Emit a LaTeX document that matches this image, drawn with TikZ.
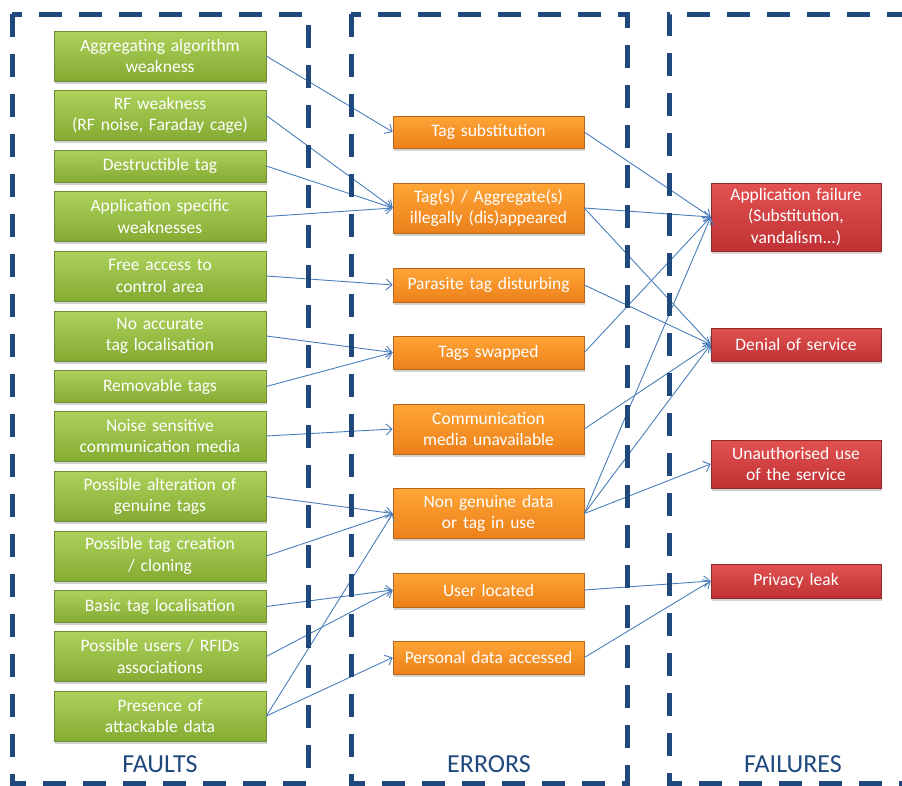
\documentclass[tikz,border=0pt]{standalone}
\usepackage{fontspec}
\setmainfont{Carlito}
\usetikzlibrary{arrows.meta,shadows}

\definecolor{frameblue}{HTML}{1F497D}
\definecolor{linkblue}{HTML}{4A7EBB}
\definecolor{faulttop}{HTML}{ADD15A}
\definecolor{faultbot}{HTML}{85AB33}
\definecolor{faultedge}{HTML}{6E8C34}
\definecolor{errtop}{HTML}{FFA536}
\definecolor{errbot}{HTML}{EC801A}
\definecolor{erredge}{HTML}{B8661E}
\definecolor{failtop}{HTML}{E35252}
\definecolor{failbot}{HTML}{BF3134}
\definecolor{failedge}{HTML}{8E2A2A}

\begin{document}
\begin{tikzpicture}[x=1pt,y=-1pt,
    box/.style={draw, line width=0.6pt, text=white, align=center,
      inner sep=0pt, font=\fontsize{17.5}{21.7}\selectfont,
      drop shadow={shadow xshift=1pt, shadow yshift=-2.5pt, opacity=0.35}},
    fault/.style={box, draw=faultedge, top color=faulttop,
      bottom color=faultbot, minimum width=212pt, text width=208pt},
    err/.style={box, draw=erredge, top color=errtop,
      bottom color=errbot, minimum width=191pt, text width=187pt},
    fail/.style={box, draw=failedge, top color=failtop,
      bottom color=failbot, minimum width=170pt, text width=166pt},
    link/.style={linkblue, line width=0.9pt,
      -{Straight Barb[length=6pt,width=11pt]}},
    frame/.style={frameblue, line width=5pt, dash pattern=on 23pt off 17pt},
    title/.style={frameblue, font=\fontsize{26}{30}\selectfont}]

  \useasboundingbox (0,0) rectangle (902,785);

  % faults
  \node[fault, minimum height=50pt] (f1) at (160,56) {Aggregating algorithm\\weakness};
  \node[fault, minimum height=50pt] (f2) at (160,115.5) {RF weakness\\(RF noise, Faraday cage)};
  \node[fault, minimum height=32pt] (f3) at (160,166) {Destructible tag};
  \node[fault, minimum height=50pt] (f4) at (160,216.5) {Application specific\\weaknesses};
  \node[fault, minimum height=50pt] (f5) at (160,276) {Free access to\\control area};
  \node[fault, minimum height=50pt] (f6) at (160,336) {No accurate\\tag localisation};
  \node[fault, minimum height=32pt] (f7) at (160,386.5) {Removable tags};
  \node[fault, minimum height=50pt] (f8) at (160,436) {Noise sensitive\\communication media};
  \node[fault, minimum height=50pt] (f9) at (160,496.5) {Possible alteration of\\genuine tags};
  \node[fault, minimum height=50pt] (f10) at (160,556) {Possible tag creation\\/ cloning};
  \node[fault, minimum height=32pt] (f11) at (160,606.5) {Basic tag localisation};
  \node[fault, minimum height=50pt] (f12) at (160,656.5) {Possible users / RFIDs\\associations};
  \node[fault, minimum height=50pt] (f13) at (160,716) {Presence of\\attackable data};

  % errors
  \node[err, minimum height=32pt] (e1) at (488.5,132) {Tag substitution};
  \node[err, minimum height=50pt] (e2) at (488.5,208) {Tag(s) / Aggregate(s)\\illegally (dis)appeared};
  \node[err, minimum height=34pt] (e3) at (488.5,285) {Parasite tag disturbing};
  \node[err, minimum height=33pt] (e4) at (488.5,352.5) {Tags swapped};
  \node[err, minimum height=50pt] (e5) at (488.5,429) {Communication\\media unavailable};
  \node[err, minimum height=50pt] (e6) at (488.5,513.5) {Non genuine data\\or tag in use};
  \node[err, minimum height=34pt] (e7) at (488.5,590) {User located};
  \node[err, minimum height=33pt] (e8) at (488.5,657.5) {Personal data accessed};

  % failures
  \node[fail, minimum height=68pt] (a1) at (796,217) {Application failure\\(Substitution,\\vandalism...)};
  \node[fail, minimum height=33pt] (a2) at (796,344.5) {Denial of service};
  \node[fail, minimum height=48pt] (a3) at (796,464) {Unauthorised use\\of the service};
  \node[fail, minimum height=34pt] (a4) at (796,581) {Privacy leak};

  \foreach \a/\b in {f1/e1, f2/e2, f3/e2, f4/e2, f5/e3, f6/e4, f7/e4, f8/e5,
      f9/e6, f10/e6, f13/e6, f11/e7, f12/e7, f13/e8,
      e1/a1, e2/a1, e4/a1, e6/a1, e2/a2, e3/a2, e5/a2, e6/a2, e6/a3,
      e7/a4, e8/a4}
    \draw[link] (\a.east) -- (\b.west);

  % dashed columns
  \draw[frame] (12,14) rectangle (308,783);
  \draw[frame] (351,14) rectangle (627,783);
  \draw[frame] (910,14) -- (669,14) -- (669,783) -- (910,783);

  \node[title] (tfaults) at (160,764) {FAULTS};
  \node[title] (terrors) at (489,764) {ERRORS};
  \node[title] (tfailures) at (793,764) {FAILURES};
\end{tikzpicture}
\end{document}
